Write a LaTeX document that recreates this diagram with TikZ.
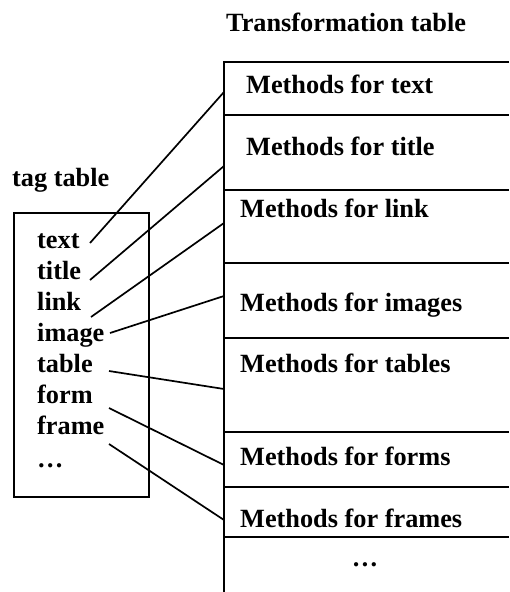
\documentclass[tikz,border=0pt]{standalone}
\usepackage{fontspec}
\setmainfont{Liberation Serif}
\begin{document}
\begin{tikzpicture}[x=1pt,y=-1pt,
  lbl/.style={anchor=base west, inner sep=0pt, font=\fontsize{26.3}{30}\selectfont\bfseries},
  boxline/.style={line width=2.3pt},
  tabline/.style={line width=2.7pt},
  sepline/.style={line width=1.7pt},
  conn/.style={line width=1.7pt}]
\useasboundingbox (0,0) rectangle (509,592);
% titles
\node[lbl] (ttitle) at (226,31) {Transformation table};
\node[lbl] (tagtitle) at (12,186) {tag table};
% tag box
\node[draw, boxline, anchor=north west, inner sep=0pt, minimum width=135pt, minimum height=284pt] (tagbox) at (13,212) {};
% tags
\node[lbl] (t1) at (37,248) {text};
\node[lbl] (t2) at (37,279) {title};
\node[lbl] (t3) at (37,310) {link};
\node[lbl] (t4) at (37,341) {image};
\node[lbl] (t5) at (37,372) {table};
\node[lbl] (t6) at (37,403) {form};
\node[lbl] (t7) at (37,434) {frame};
\node[lbl] (t8) at (37,467) {…};
% transformation table
\draw[tabline] (509,62) -- (224,62) -- (224,592);
\foreach \yy in {115,190,263,338,432,487,537}
  \draw[sepline] (224,\yy) -- (509,\yy);
\node[lbl] (m1) at (246,93) {Methods for text};
\node[lbl] (m2) at (246,155) {Methods for title};
\node[lbl] (m3) at (240,217) {Methods for link};
\node[lbl] (m4) at (240,311) {Methods for images};
\node[lbl] (m5) at (240,372) {Methods for tables};
\node[lbl] (m6) at (240,465) {Methods for forms};
\node[lbl] (m7) at (240,527) {Methods for frames};
\node[lbl, anchor=base] (m8) at (365,566) {…};
% connector end points
\coordinate (a1) at (90,243);  \coordinate (b1) at (224,92);
\coordinate (a2) at (90,280);  \coordinate (b2) at (224,166);
\coordinate (a3) at (91,317);  \coordinate (b3) at (224,223);
\coordinate (a4) at (110,333); \coordinate (b4) at (224,296);
\coordinate (a5) at (109,371); \coordinate (b5) at (224,389);
\coordinate (a6) at (109,408); \coordinate (b6) at (224,465);
\coordinate (a7) at (109,444); \coordinate (b7) at (224,520);
\foreach \i in {1,...,7}
  \draw[conn] (a\i) -- (b\i);
\end{tikzpicture}
\end{document}
